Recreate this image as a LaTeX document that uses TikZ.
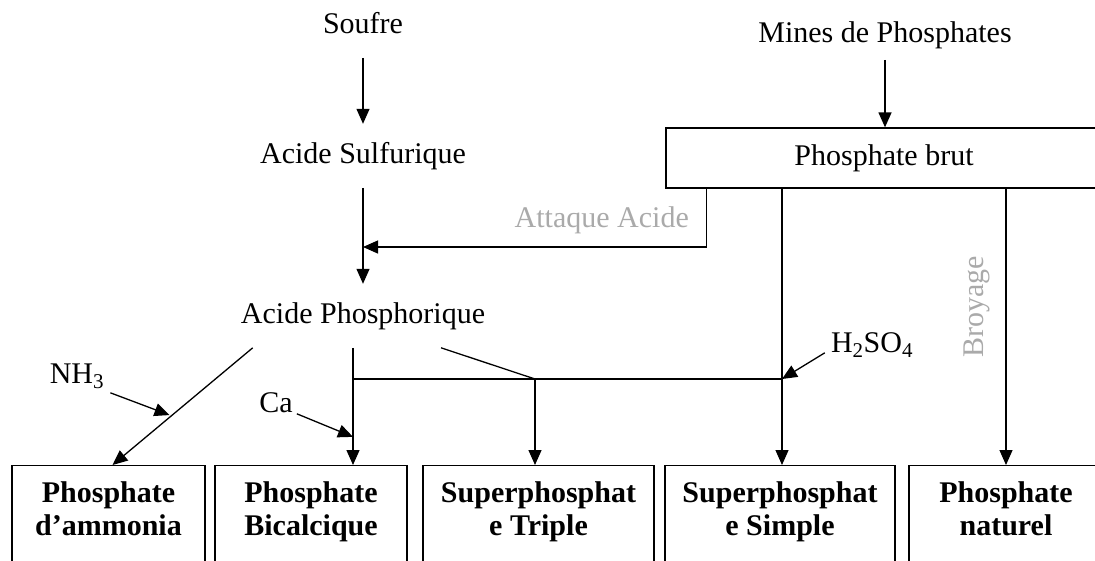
\documentclass[tikz,border=0pt]{standalone}
\usepackage{fontspec}
\setmainfont{Liberation Serif}
\usepackage{tikz}
\usetikzlibrary{arrows.meta,positioning}
\usepackage{xcolor}
\definecolor{flowgray}{RGB}{170,170,170}
\tikzstyle{arrow} = [line width=1.3pt,-{Triangle[length=15pt,width=13pt]}]
\tikzstyle{link} = [line width=1.3pt]
\tikzstyle{stage} = [inner xsep=0pt, inner ysep=18pt, text height=21pt, text depth=6.6pt, font=\fontsize{30}{36}\selectfont]
\tikzstyle{reagent} = [inner sep=0pt, text height=21pt, text depth=6.6pt, font=\fontsize{30}{36}\selectfont]
\tikzstyle{process} = [reagent, text=flowgray]
\tikzstyle{rawbox} = [draw, line width=1.3pt, inner sep=0pt, minimum width=436pt, minimum height=60pt, font=\fontsize{30}{36}\selectfont]
\tikzstyle{product} = [draw, line width=1.3pt, anchor=north, inner sep=0pt, font=\bfseries\fontsize{30}{33}\selectfont]
\newcommand{\prodlabel}[2]{\parbox[t][120pt][t]{#1}{\centering\vspace*{16pt}#2}}

\begin{document}
\begin{tikzpicture}[x=1pt,y=-1pt]
\useasboundingbox (0,0) rectangle (1095,560);
\clip (0,0) rectangle (1095,560);

% Raw materials and intermediates
\node[stage, anchor=base] (soufre) at (363,33) {Soufre};
\node[stage, anchor=base] (asulf) at (363,163) {Acide Sulfurique};
\node[stage, anchor=base] (aphos) at (363,323) {Acide Phosphorique};
\node[stage, anchor=base] (mines) at (885,42) {Mines de Phosphates};
\node[rawbox] (brut) at (884,158) {Phosphate brut};

% Products
\node[product] (amm) at (108.5,465) {\prodlabel{193pt}{Phosphate\\d'ammonia}};
\node[product] (bical) at (311,465) {\prodlabel{192pt}{Phosphate\\Bicalcique}};
\node[product] (triple) at (538.5,465) {\prodlabel{231pt}{Superphosphat\\e Triple}};
\node[product] (simple) at (780,465) {\prodlabel{230pt}{Superphosphat\\e Simple}};
\node[product] (naturel) at (1006,465) {\prodlabel{194pt}{Phosphate\\naturel}};

% Process labels and reagents
\node[process, anchor=base east] (attaque) at (689,227) {Attaque Acide};
\node[process, rotate=90, anchor=base] (broyage) at (983,307) {Broyage};
\node[reagent, anchor=base] (nh3) at (77,383) {NH\textsubscript{3}};
\node[reagent, anchor=base] (ca) at (276,412) {Ca};
\node[reagent, anchor=base] (hso) at (872,352) {H\textsubscript{2}SO\textsubscript{4}};

% Junctions
\coordinate (acidjoin) at (363,247);
\coordinate (busW) at (353,379);
\coordinate (busM) at (535,379);
\coordinate (busE) at (782,379);

% Main flow
\draw[arrow] (soufre) -- (asulf);
\draw[arrow] (asulf) -- (aphos);
\draw[arrow] ([yshift=7pt]mines.south) -- (mines.south |- brut.north);
\draw[arrow] ([xshift=41pt]brut.south west) |- (acidjoin);

% Acid routes
\draw[arrow] ([xshift=12pt]aphos.south west) -- coordinate[pos=0.58] (nhjoin) ([xshift=4pt]amm.north);
\draw[arrow] ([xshift=-10pt]aphos.south) -- coordinate[pos=0.76] (cajoin) ([xshift=-10pt]aphos.south |- bical.north);
\draw[link] ([xshift=78pt]aphos.south) -- (busM);
\draw[link] (busW) -- (busE);
\draw[arrow] (busM) -- (busM |- triple.north);
\draw[arrow] (brut.south -| busE) -- (busE |- simple.north);
\draw[arrow] (brut.south -| naturel.north) -- (naturel.north);

% Reagent inputs
\draw[arrow, shorten >=2pt] ([shift={(6pt,-3pt)}]nh3.south east) -- (nhjoin);
\draw[arrow] ([shift={(4pt,5pt)}]ca.south east) -- (cajoin);
\draw[arrow] ([shift={(-6pt,6pt)}]hso.south west) -- (busE);
\end{tikzpicture}
\end{document}
